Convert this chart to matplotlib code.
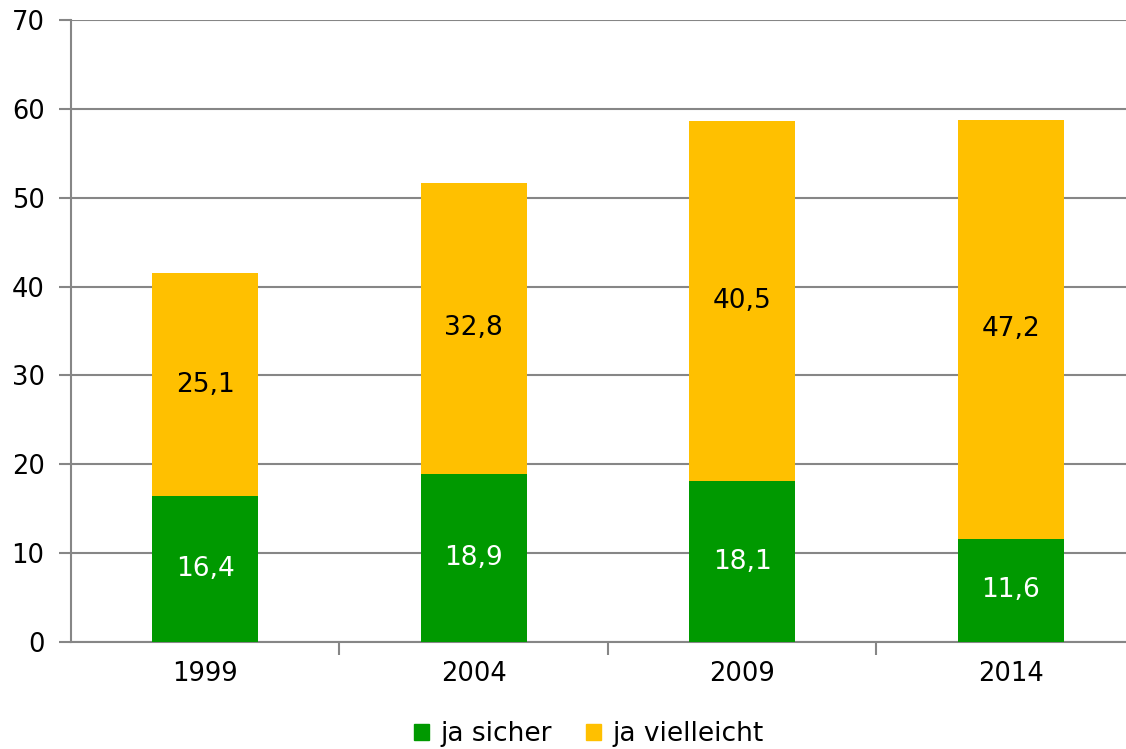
import matplotlib
matplotlib.use("Agg")
import matplotlib.pyplot as plt
from matplotlib.patches import Patch

years = ["1999", "2004", "2009", "2014"]
sicher = [16.4, 18.9, 18.1, 11.6]
vielleicht = [25.1, 32.8, 40.5, 47.2]
sicher_labels = ["16,4", "18,9", "18,1", "11,6"]
vielleicht_labels = ["25,1", "32,8", "40,5", "47,2"]
yticks = [0, 10, 20, 30, 40, 50, 60, 70]

green = "#009900"
yellow = "#FFC000"
gray = "#868686"

plt.rcParams['font.family'] = ['DejaVu Sans']
fig = plt.figure(figsize=(11.26, 7.49), dpi=100)
ax = fig.add_axes([71/1126, 1-642/749, 1-71/1126, (642-20)/749])

x = list(range(len(years)))
w = 0.395
ax.bar(x, sicher, width=w, color=green, zorder=3)
ax.bar(x, vielleicht, width=w, bottom=sicher, color=yellow, zorder=3)

for i in x:
    ax.text(i, sicher[i]/2, sicher_labels[i], ha='center', va='center',
            color='white', fontsize=19, zorder=4)
    ax.text(i, sicher[i] + vielleicht[i]/2, vielleicht_labels[i], ha='center',
            va='center', color='black', fontsize=19, zorder=4)

ax.set_ylim(0, 70)
ax.set_xlim(-0.5, 3.43)
ax.set_yticks(yticks)
ax.set_yticklabels([str(v) for v in yticks], fontsize=18.5)
ax.yaxis.grid(True, color=gray, linewidth=1.5, zorder=0)
ax.set_axisbelow(True)

ax.set_xticks([0.5, 1.5, 2.5])
ax.set_xticklabels([])
ax.set_xticks(x, minor=True)
ax.set_xticklabels(years, minor=True, fontsize=18.5)
ax.tick_params(axis='x', which='minor', length=0, pad=14)
ax.tick_params(axis='x', which='major', length=9, width=1.5, color=gray, direction='out')
ax.tick_params(axis='y', length=9, width=1.5, color=gray, pad=10)

for s in ['top', 'right']:
    ax.spines[s].set_visible(False)
for s in ['left', 'bottom']:
    ax.spines[s].set_color(gray)
    ax.spines[s].set_linewidth(1.5)

handles = [Patch(color=green, label="ja sicher"), Patch(color=yellow, label="ja vielleicht")]
fig.legend(handles=handles, loc='center', bbox_to_anchor=(589/1126, 1-734/749),
           ncol=2, frameon=False, fontsize=19, handlelength=0.55, handleheight=0.55,
           handletextpad=0.45, columnspacing=1.3)

fig.savefig("out.png", dpi=100)
